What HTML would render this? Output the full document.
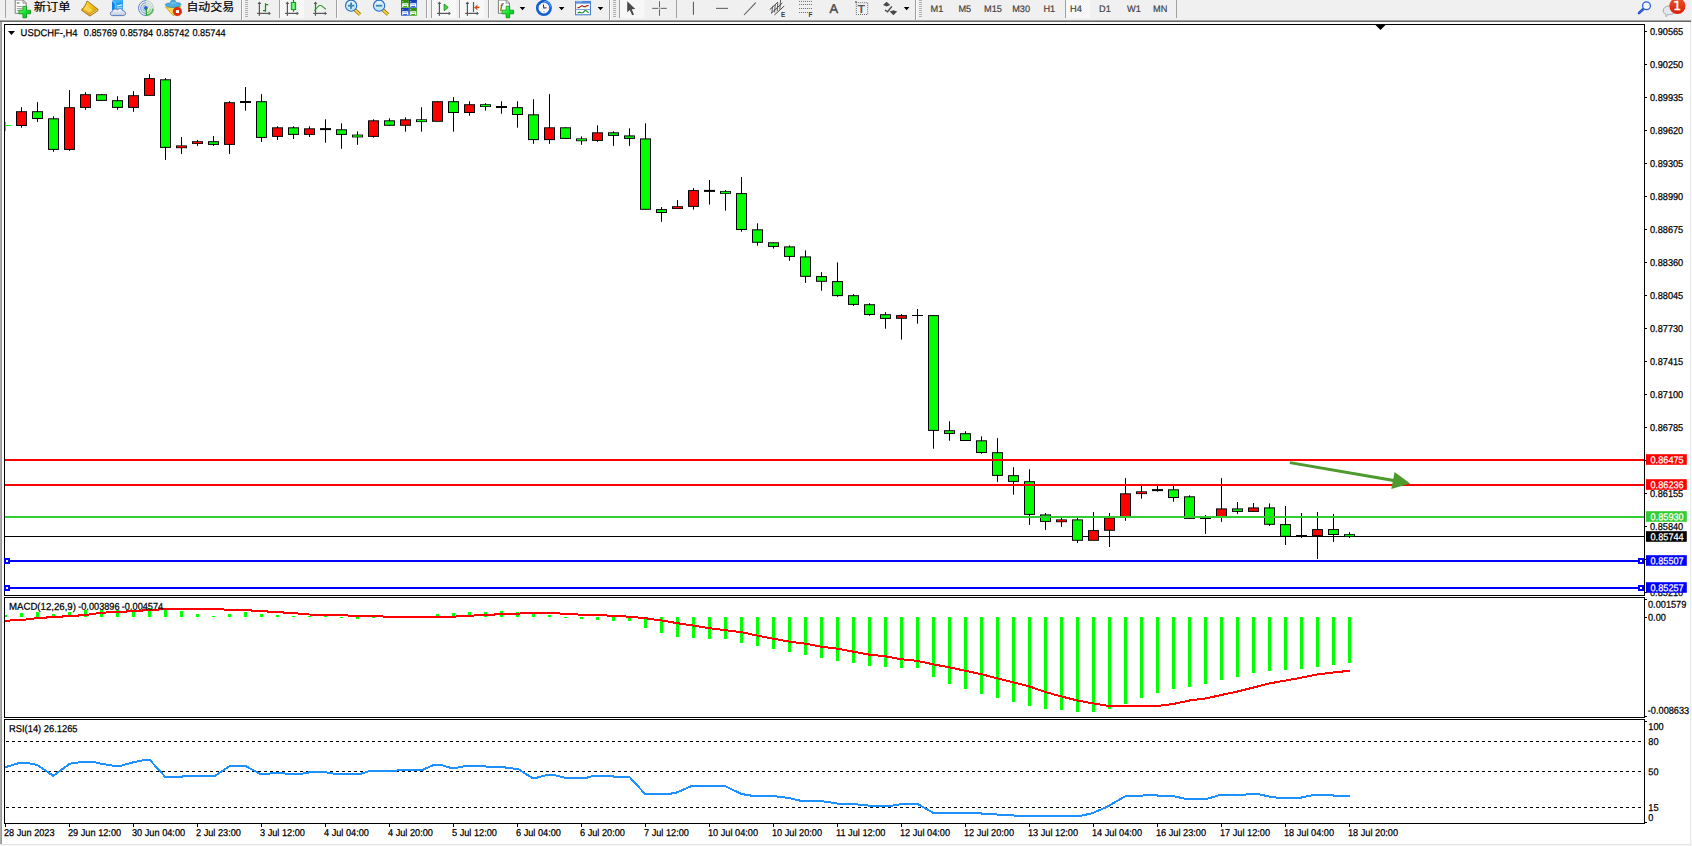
<!DOCTYPE html>
<html lang="zh">
<head>
<meta charset="utf-8">
<title>USDCHF-,H4</title>
<style>
html,body{margin:0;padding:0;background:#fff;}
body{width:1692px;height:846px;overflow:hidden;position:relative;}
svg{position:absolute;left:0;top:0;display:block;}
text{font-family:"Liberation Sans","Noto Sans CJK SC",sans-serif;white-space:pre;}
</style>
</head>
<body>
<svg width="1692" height="846" viewBox="0 0 1692 846">
<g id="frame">
<rect x="0" y="0" width="1692" height="846" fill="#fff"/>
<rect x="0" y="0" width="1692" height="20" fill="#f0f0f0"/>
<rect x="0" y="20" width="1691" height="1" fill="#a2a2a2"/>
<rect x="0" y="21" width="1691" height="1" fill="#6a6a6a"/>
<rect x="0" y="22" width="1" height="822" fill="#acacac"/>
<rect x="1" y="22" width="0.8" height="822" fill="#808080"/>
<rect x="1690.2" y="22" width="1" height="824" fill="#e6e6e6"/>
<rect x="1691.2" y="0" width="0.8" height="846" fill="#f6f6f6"/>
<rect x="0" y="844" width="1691" height="1" fill="#e4e4e4"/>
<rect x="0" y="845" width="1692" height="1" fill="#f8f8f8"/>
</g>
<g id="panels" fill="#000">
<rect x="4" y="24" width="1641" height="1" fill="#000"/>
<rect x="4" y="595" width="1641" height="1" fill="#000"/>
<rect x="4" y="24" width="1" height="572" fill="#000"/>
<rect x="1644" y="24" width="1" height="572" fill="#000"/>
<rect x="4" y="597" width="1641" height="1" fill="#000"/>
<rect x="4" y="717" width="1641" height="1" fill="#000"/>
<rect x="4" y="597" width="1" height="121" fill="#000"/>
<rect x="1644" y="597" width="1" height="121" fill="#000"/>
<rect x="4" y="719" width="1641" height="1" fill="#000"/>
<rect x="4" y="823" width="1641" height="1" fill="#000"/>
<rect x="4" y="719" width="1" height="105" fill="#000"/>
<rect x="1644" y="719" width="1" height="105" fill="#000"/>
</g>
<rect x="5" y="536" width="1639" height="1" fill="#000"/>
<g id="candles">
<rect x="21" y="107.2" width="1" height="20.5" fill="#000"/>
<rect x="16" y="111.2" width="11" height="14.8" fill="#000"/>
<rect x="17" y="112.2" width="9" height="12.8" fill="#ff0000"/>
<rect x="37" y="102.2" width="1" height="19.7" fill="#000"/>
<rect x="32" y="111.2" width="11" height="7.8" fill="#000"/>
<rect x="33" y="112.2" width="9" height="5.8" fill="#00ff00"/>
<rect x="53" y="116.3" width="1" height="35.5" fill="#000"/>
<rect x="48" y="118.3" width="11" height="31.6" fill="#000"/>
<rect x="49" y="119.3" width="9" height="29.6" fill="#00ff00"/>
<rect x="69" y="90.1" width="1" height="60.7" fill="#000"/>
<rect x="64" y="107.2" width="11" height="42.7" fill="#000"/>
<rect x="65" y="108.2" width="9" height="40.7" fill="#ff0000"/>
<rect x="85" y="92.2" width="1" height="17.6" fill="#000"/>
<rect x="80" y="94.2" width="11" height="13.7" fill="#000"/>
<rect x="81" y="95.2" width="9" height="11.7" fill="#ff0000"/>
<rect x="101" y="94.2" width="1" height="6.4" fill="#000"/>
<rect x="96" y="94.2" width="11" height="6.7" fill="#000"/>
<rect x="97" y="95.2" width="9" height="4.7" fill="#00ff00"/>
<rect x="117" y="96.2" width="1" height="13.6" fill="#000"/>
<rect x="112" y="100.2" width="11" height="7.7" fill="#000"/>
<rect x="113" y="101.2" width="9" height="5.7" fill="#00ff00"/>
<rect x="133" y="91.1" width="1" height="20.7" fill="#000"/>
<rect x="128" y="95.2" width="11" height="12.7" fill="#000"/>
<rect x="129" y="96.2" width="9" height="10.7" fill="#ff0000"/>
<rect x="149" y="74.1" width="1" height="21.5" fill="#000"/>
<rect x="144" y="78.1" width="11" height="17.8" fill="#000"/>
<rect x="145" y="79.1" width="9" height="15.8" fill="#ff0000"/>
<rect x="165" y="78.1" width="1" height="81.8" fill="#000"/>
<rect x="160" y="79.3" width="11" height="68.6" fill="#000"/>
<rect x="161" y="80.3" width="9" height="66.6" fill="#00ff00"/>
<rect x="181" y="137" width="1" height="16.9" fill="#000"/>
<rect x="176" y="145.4" width="11" height="2.8" fill="#000"/>
<rect x="177" y="146.1" width="9" height="1.4" fill="#ff0000"/>
<rect x="197" y="140" width="1" height="5.8" fill="#000"/>
<rect x="192" y="141.2" width="11" height="2.8" fill="#000"/>
<rect x="193" y="141.9" width="9" height="1.4" fill="#ff0000"/>
<rect x="213" y="136" width="1" height="9.8" fill="#000"/>
<rect x="208" y="141.2" width="11" height="3.7" fill="#000"/>
<rect x="209" y="142.2" width="9" height="1.7" fill="#00ff00"/>
<rect x="229" y="101.2" width="1" height="52.7" fill="#000"/>
<rect x="224" y="102.2" width="11" height="42.7" fill="#000"/>
<rect x="225" y="103.2" width="9" height="40.7" fill="#ff0000"/>
<rect x="245" y="87.1" width="1" height="23.7" fill="#000"/>
<rect x="240" y="101" width="11" height="2" fill="#000"/>
<rect x="261" y="94.2" width="1" height="47.8" fill="#000"/>
<rect x="256" y="101.2" width="11" height="36.7" fill="#000"/>
<rect x="257" y="102.2" width="9" height="34.7" fill="#00ff00"/>
<rect x="277" y="126.3" width="1" height="13.7" fill="#000"/>
<rect x="272" y="127.3" width="11" height="9.6" fill="#000"/>
<rect x="273" y="128.3" width="9" height="7.6" fill="#ff0000"/>
<rect x="293" y="126.3" width="1" height="12.7" fill="#000"/>
<rect x="288" y="127.3" width="11" height="7.6" fill="#000"/>
<rect x="289" y="128.3" width="9" height="5.6" fill="#00ff00"/>
<rect x="309" y="126.3" width="1" height="10.7" fill="#000"/>
<rect x="304" y="128.3" width="11" height="6.6" fill="#000"/>
<rect x="305" y="129.3" width="9" height="4.6" fill="#ff0000"/>
<rect x="325" y="119.3" width="1" height="23.5" fill="#000"/>
<rect x="320" y="128.1" width="11" height="2" fill="#000"/>
<rect x="341" y="123.3" width="1" height="25.5" fill="#000"/>
<rect x="336" y="129.3" width="11" height="5.6" fill="#000"/>
<rect x="337" y="130.3" width="9" height="3.6" fill="#00ff00"/>
<rect x="357" y="131.3" width="1" height="13.5" fill="#000"/>
<rect x="352" y="134.6" width="11" height="2.8" fill="#000"/>
<rect x="353" y="135.3" width="9" height="1.4" fill="#00ff00"/>
<rect x="373" y="119.3" width="1" height="18.3" fill="#000"/>
<rect x="368" y="120.3" width="11" height="16.6" fill="#000"/>
<rect x="369" y="121.3" width="9" height="14.6" fill="#ff0000"/>
<rect x="389" y="118.3" width="1" height="7.2" fill="#000"/>
<rect x="384" y="120.3" width="11" height="5.5" fill="#000"/>
<rect x="385" y="121.3" width="9" height="3.5" fill="#00ff00"/>
<rect x="405" y="117.3" width="1" height="14.4" fill="#000"/>
<rect x="400" y="119.3" width="11" height="6.5" fill="#000"/>
<rect x="401" y="120.3" width="9" height="4.5" fill="#ff0000"/>
<rect x="421" y="107.2" width="1" height="24.5" fill="#000"/>
<rect x="416" y="119.3" width="11" height="2.8" fill="#000"/>
<rect x="417" y="120" width="9" height="1.4" fill="#00ff00"/>
<rect x="437" y="101.2" width="1" height="20.3" fill="#000"/>
<rect x="432" y="101.2" width="11" height="20.6" fill="#000"/>
<rect x="433" y="102.2" width="9" height="18.6" fill="#ff0000"/>
<rect x="453" y="97.2" width="1" height="34.5" fill="#000"/>
<rect x="448" y="101.2" width="11" height="11.8" fill="#000"/>
<rect x="449" y="102.2" width="9" height="9.8" fill="#00ff00"/>
<rect x="469" y="101.2" width="1" height="14.5" fill="#000"/>
<rect x="464" y="104.2" width="11" height="8.8" fill="#000"/>
<rect x="465" y="105.2" width="9" height="6.8" fill="#ff0000"/>
<rect x="485" y="103.2" width="1" height="7.4" fill="#000"/>
<rect x="480" y="104.2" width="11" height="2.8" fill="#000"/>
<rect x="481" y="104.9" width="9" height="1.4" fill="#00ff00"/>
<rect x="501" y="101.2" width="1" height="12.5" fill="#000"/>
<rect x="496" y="106" width="11" height="2" fill="#000"/>
<rect x="517" y="101.2" width="1" height="26.5" fill="#000"/>
<rect x="512" y="107.2" width="11" height="7.8" fill="#000"/>
<rect x="513" y="108.2" width="9" height="5.8" fill="#00ff00"/>
<rect x="533" y="99.2" width="1" height="44.6" fill="#000"/>
<rect x="528" y="114.3" width="11" height="25.8" fill="#000"/>
<rect x="529" y="115.3" width="9" height="23.8" fill="#00ff00"/>
<rect x="549" y="94.2" width="1" height="49.6" fill="#000"/>
<rect x="544" y="127.3" width="11" height="12.8" fill="#000"/>
<rect x="545" y="128.3" width="9" height="10.8" fill="#ff0000"/>
<rect x="565" y="127.3" width="1" height="11.3" fill="#000"/>
<rect x="560" y="127.3" width="11" height="11.6" fill="#000"/>
<rect x="561" y="128.3" width="9" height="9.6" fill="#00ff00"/>
<rect x="581" y="136.4" width="1" height="8.4" fill="#000"/>
<rect x="576" y="138.4" width="11" height="2.8" fill="#000"/>
<rect x="577" y="139.1" width="9" height="1.4" fill="#00ff00"/>
<rect x="597" y="125.3" width="1" height="16.5" fill="#000"/>
<rect x="592" y="132.3" width="11" height="8.6" fill="#000"/>
<rect x="593" y="133.3" width="9" height="6.6" fill="#ff0000"/>
<rect x="613" y="131.3" width="1" height="14.5" fill="#000"/>
<rect x="608" y="132.3" width="11" height="3.6" fill="#000"/>
<rect x="609" y="133.3" width="9" height="1.6" fill="#00ff00"/>
<rect x="629" y="128.3" width="1" height="17.5" fill="#000"/>
<rect x="624" y="135.4" width="11" height="3.5" fill="#000"/>
<rect x="625" y="136.4" width="9" height="1.5" fill="#00ff00"/>
<rect x="645" y="123.3" width="1" height="86.2" fill="#000"/>
<rect x="640" y="138.4" width="11" height="71.4" fill="#000"/>
<rect x="641" y="139.4" width="9" height="69.4" fill="#00ff00"/>
<rect x="661" y="207.1" width="1" height="14.7" fill="#000"/>
<rect x="656" y="209.1" width="11" height="3.9" fill="#000"/>
<rect x="657" y="210.1" width="9" height="1.9" fill="#00ff00"/>
<rect x="677" y="200.1" width="1" height="8.5" fill="#000"/>
<rect x="672" y="206.2" width="11" height="2.8" fill="#000"/>
<rect x="673" y="206.9" width="9" height="1.4" fill="#ff0000"/>
<rect x="693" y="188.1" width="1" height="21.5" fill="#000"/>
<rect x="688" y="190.1" width="11" height="16.8" fill="#000"/>
<rect x="689" y="191.1" width="9" height="14.8" fill="#ff0000"/>
<rect x="709" y="180" width="1" height="24.6" fill="#000"/>
<rect x="704" y="189.9" width="11" height="2" fill="#000"/>
<rect x="725" y="190.1" width="1" height="20.5" fill="#000"/>
<rect x="720" y="191.1" width="11" height="2.8" fill="#000"/>
<rect x="721" y="191.8" width="9" height="1.4" fill="#00ff00"/>
<rect x="741" y="177" width="1" height="54.7" fill="#000"/>
<rect x="736" y="193.1" width="11" height="36.9" fill="#000"/>
<rect x="737" y="194.1" width="9" height="34.9" fill="#00ff00"/>
<rect x="757" y="223.3" width="1" height="22.3" fill="#000"/>
<rect x="752" y="229.3" width="11" height="13.5" fill="#000"/>
<rect x="753" y="230.3" width="9" height="11.5" fill="#00ff00"/>
<rect x="773" y="242.3" width="1" height="6.3" fill="#000"/>
<rect x="768" y="242.3" width="11" height="4.6" fill="#000"/>
<rect x="769" y="243.3" width="9" height="2.6" fill="#00ff00"/>
<rect x="789" y="245.4" width="1" height="15.4" fill="#000"/>
<rect x="784" y="246.4" width="11" height="10.5" fill="#000"/>
<rect x="785" y="247.4" width="9" height="8.5" fill="#00ff00"/>
<rect x="805" y="250.4" width="1" height="32.5" fill="#000"/>
<rect x="800" y="256.4" width="11" height="20.4" fill="#000"/>
<rect x="801" y="257.4" width="9" height="18.4" fill="#00ff00"/>
<rect x="821" y="272.1" width="1" height="18.7" fill="#000"/>
<rect x="816" y="276.1" width="11" height="5.7" fill="#000"/>
<rect x="817" y="277.1" width="9" height="3.7" fill="#00ff00"/>
<rect x="837" y="262.4" width="1" height="34.4" fill="#000"/>
<rect x="832" y="281.1" width="11" height="15" fill="#000"/>
<rect x="833" y="282.1" width="9" height="13" fill="#00ff00"/>
<rect x="853" y="294.2" width="1" height="11.7" fill="#000"/>
<rect x="848" y="295.2" width="11" height="9.7" fill="#000"/>
<rect x="849" y="296.2" width="9" height="7.7" fill="#00ff00"/>
<rect x="869" y="303.2" width="1" height="12.5" fill="#000"/>
<rect x="864" y="304.2" width="11" height="10.8" fill="#000"/>
<rect x="865" y="305.2" width="9" height="8.8" fill="#00ff00"/>
<rect x="885" y="312.2" width="1" height="16.5" fill="#000"/>
<rect x="880" y="314.2" width="11" height="4.7" fill="#000"/>
<rect x="881" y="315.2" width="9" height="2.7" fill="#00ff00"/>
<rect x="901" y="314.1" width="1" height="25.5" fill="#000"/>
<rect x="896" y="315.1" width="11" height="3.7" fill="#000"/>
<rect x="897" y="316.1" width="9" height="1.7" fill="#ff0000"/>
<rect x="917" y="309" width="1" height="14.7" fill="#000"/>
<rect x="912" y="315" width="11" height="1" fill="#000"/>
<rect x="933" y="315.1" width="1" height="133.6" fill="#000"/>
<rect x="928" y="315.1" width="11" height="115.8" fill="#000"/>
<rect x="929" y="316.1" width="9" height="113.8" fill="#00ff00"/>
<rect x="949" y="421.2" width="1" height="19.5" fill="#000"/>
<rect x="944" y="430.2" width="11" height="3.7" fill="#000"/>
<rect x="945" y="431.2" width="9" height="1.7" fill="#00ff00"/>
<rect x="965" y="431.2" width="1" height="9.5" fill="#000"/>
<rect x="960" y="433.2" width="11" height="7.8" fill="#000"/>
<rect x="961" y="434.2" width="9" height="5.8" fill="#00ff00"/>
<rect x="981" y="436.3" width="1" height="17.4" fill="#000"/>
<rect x="976" y="440.3" width="11" height="12.7" fill="#000"/>
<rect x="977" y="441.3" width="9" height="10.7" fill="#00ff00"/>
<rect x="997" y="438.2" width="1" height="43.6" fill="#000"/>
<rect x="992" y="452.2" width="11" height="23.7" fill="#000"/>
<rect x="993" y="453.2" width="9" height="21.7" fill="#00ff00"/>
<rect x="1013" y="467.2" width="1" height="27.5" fill="#000"/>
<rect x="1008" y="475.2" width="11" height="6.7" fill="#000"/>
<rect x="1009" y="476.2" width="9" height="4.7" fill="#00ff00"/>
<rect x="1029" y="469.2" width="1" height="55.7" fill="#000"/>
<rect x="1024" y="481.2" width="11" height="33.7" fill="#000"/>
<rect x="1025" y="482.2" width="9" height="31.7" fill="#00ff00"/>
<rect x="1045" y="513" width="1" height="16.9" fill="#000"/>
<rect x="1040" y="514.4" width="11" height="7.5" fill="#000"/>
<rect x="1041" y="515.4" width="9" height="5.5" fill="#00ff00"/>
<rect x="1061" y="517.4" width="1" height="9.5" fill="#000"/>
<rect x="1056" y="519.4" width="11" height="2.8" fill="#000"/>
<rect x="1057" y="520.1" width="9" height="1.4" fill="#ff0000"/>
<rect x="1077" y="517.8" width="1" height="25.1" fill="#000"/>
<rect x="1072" y="519.4" width="11" height="21.4" fill="#000"/>
<rect x="1073" y="520.4" width="9" height="19.4" fill="#00ff00"/>
<rect x="1093" y="512" width="1" height="28.5" fill="#000"/>
<rect x="1088" y="530.1" width="11" height="10.7" fill="#000"/>
<rect x="1089" y="531.1" width="9" height="8.7" fill="#ff0000"/>
<rect x="1109" y="513" width="1" height="34" fill="#000"/>
<rect x="1104" y="517.4" width="11" height="13.4" fill="#000"/>
<rect x="1105" y="518.4" width="9" height="11.4" fill="#ff0000"/>
<rect x="1125" y="478.2" width="1" height="42.6" fill="#000"/>
<rect x="1120" y="493.3" width="11" height="23.8" fill="#000"/>
<rect x="1121" y="494.3" width="9" height="21.8" fill="#ff0000"/>
<rect x="1141" y="485.9" width="1" height="12.8" fill="#000"/>
<rect x="1136" y="491.3" width="11" height="2.8" fill="#000"/>
<rect x="1137" y="492" width="9" height="1.4" fill="#ff0000"/>
<rect x="1157" y="485.9" width="1" height="5.8" fill="#000"/>
<rect x="1152" y="489.1" width="11" height="2" fill="#000"/>
<rect x="1173" y="485.9" width="1" height="15.8" fill="#000"/>
<rect x="1168" y="489.3" width="11" height="8.7" fill="#000"/>
<rect x="1169" y="490.3" width="9" height="6.7" fill="#00ff00"/>
<rect x="1189" y="495.3" width="1" height="23.3" fill="#000"/>
<rect x="1184" y="496.3" width="11" height="22.6" fill="#000"/>
<rect x="1185" y="497.3" width="9" height="20.6" fill="#00ff00"/>
<rect x="1205" y="515" width="1" height="18.9" fill="#000"/>
<rect x="1200" y="518" width="11" height="1" fill="#000"/>
<rect x="1221" y="478.2" width="1" height="43.6" fill="#000"/>
<rect x="1216" y="508.4" width="11" height="8.7" fill="#000"/>
<rect x="1217" y="509.4" width="9" height="6.7" fill="#ff0000"/>
<rect x="1237" y="502" width="1" height="11.8" fill="#000"/>
<rect x="1232" y="508.4" width="11" height="3.5" fill="#000"/>
<rect x="1233" y="509.4" width="9" height="1.5" fill="#00ff00"/>
<rect x="1253" y="503" width="1" height="8.6" fill="#000"/>
<rect x="1248" y="507.4" width="11" height="4.5" fill="#000"/>
<rect x="1249" y="508.4" width="9" height="2.5" fill="#ff0000"/>
<rect x="1269" y="503.4" width="1" height="22.5" fill="#000"/>
<rect x="1264" y="507.4" width="11" height="17.4" fill="#000"/>
<rect x="1265" y="508.4" width="9" height="15.4" fill="#00ff00"/>
<rect x="1285" y="506" width="1" height="39" fill="#000"/>
<rect x="1280" y="524.1" width="11" height="12.7" fill="#000"/>
<rect x="1281" y="525.1" width="9" height="10.7" fill="#00ff00"/>
<rect x="1301" y="513" width="1" height="24.9" fill="#000"/>
<rect x="1296" y="535" width="11" height="1" fill="#000"/>
<rect x="1317" y="512" width="1" height="47" fill="#000"/>
<rect x="1312" y="529.1" width="11" height="7.1" fill="#000"/>
<rect x="1313" y="530.1" width="9" height="5.1" fill="#ff0000"/>
<rect x="1333" y="514" width="1" height="27.9" fill="#000"/>
<rect x="1328" y="529.1" width="11" height="5.9" fill="#000"/>
<rect x="1329" y="530.1" width="9" height="3.9" fill="#00ff00"/>
<rect x="1349" y="532.1" width="1" height="5.8" fill="#000"/>
<rect x="1344" y="534.1" width="11" height="2.8" fill="#000"/>
<rect x="1345" y="534.8" width="9" height="1.4" fill="#00ff00"/>
</g>
<rect x="5" y="122" width="1" height="9" fill="#00ff00"/>
<rect x="6" y="125" width="5" height="1" fill="#00ff00"/>
<g id="hlines">
<rect x="5" y="459" width="1639" height="2" fill="#ff0000"/>
<rect x="5" y="484" width="1639" height="2" fill="#ff0000"/>
<rect x="5" y="516" width="1639" height="2" fill="#32cd32"/>
<rect x="5" y="560" width="1639" height="2" fill="#0000ff"/>
<rect x="5" y="587" width="1639" height="2" fill="#0000ff"/>
<rect x="4" y="558" width="6" height="6" fill="#0000ff"/>
<rect x="6" y="560" width="2" height="2" fill="#fff"/>
<rect x="1638" y="558" width="6" height="6" fill="#0000ff"/>
<rect x="1640" y="560" width="2" height="2" fill="#fff"/>
<rect x="4" y="585" width="6" height="6" fill="#0000ff"/>
<rect x="6" y="587" width="2" height="2" fill="#fff"/>
<rect x="1638" y="585" width="6" height="6" fill="#0000ff"/>
<rect x="1640" y="587" width="2" height="2" fill="#fff"/>
</g>
<g id="arrow" fill="#4f9a2d" stroke="none">
<path d="M1289.6 464.1 L1290.2 461.3 L1394.2 478.9 L1393.4 481.9 Z"/>
<path d="M1394.6 471.9 L1410.2 483.5 L1391.3 488.9 Z"/>
</g>
<g id="paxis">
<rect x="1645" y="31" width="2" height="1" fill="#000"/>
<text transform="matrix(0.92 0.002 0 1 1650 34.9)" font-size="10" fill="#000" stroke="#000" stroke-width="0.25">0.90565</text>
<rect x="1645" y="64" width="2" height="1" fill="#000"/>
<text transform="matrix(0.92 0.002 0 1 1650 67.9)" font-size="10" fill="#000" stroke="#000" stroke-width="0.25">0.90250</text>
<rect x="1645" y="97" width="2" height="1" fill="#000"/>
<text transform="matrix(0.92 0.002 0 1 1650 100.9)" font-size="10" fill="#000" stroke="#000" stroke-width="0.25">0.89935</text>
<rect x="1645" y="130" width="2" height="1" fill="#000"/>
<text transform="matrix(0.92 0.002 0 1 1650 133.9)" font-size="10" fill="#000" stroke="#000" stroke-width="0.25">0.89620</text>
<rect x="1645" y="163" width="2" height="1" fill="#000"/>
<text transform="matrix(0.92 0.002 0 1 1650 166.9)" font-size="10" fill="#000" stroke="#000" stroke-width="0.25">0.89305</text>
<rect x="1645" y="196" width="2" height="1" fill="#000"/>
<text transform="matrix(0.92 0.002 0 1 1650 199.9)" font-size="10" fill="#000" stroke="#000" stroke-width="0.25">0.88990</text>
<rect x="1645" y="229" width="2" height="1" fill="#000"/>
<text transform="matrix(0.92 0.002 0 1 1650 232.9)" font-size="10" fill="#000" stroke="#000" stroke-width="0.25">0.88675</text>
<rect x="1645" y="262" width="2" height="1" fill="#000"/>
<text transform="matrix(0.92 0.002 0 1 1650 265.9)" font-size="10" fill="#000" stroke="#000" stroke-width="0.25">0.88360</text>
<rect x="1645" y="295" width="2" height="1" fill="#000"/>
<text transform="matrix(0.92 0.002 0 1 1650 298.9)" font-size="10" fill="#000" stroke="#000" stroke-width="0.25">0.88045</text>
<rect x="1645" y="328" width="2" height="1" fill="#000"/>
<text transform="matrix(0.92 0.002 0 1 1650 331.9)" font-size="10" fill="#000" stroke="#000" stroke-width="0.25">0.87730</text>
<rect x="1645" y="361" width="2" height="1" fill="#000"/>
<text transform="matrix(0.92 0.002 0 1 1650 364.9)" font-size="10" fill="#000" stroke="#000" stroke-width="0.25">0.87415</text>
<rect x="1645" y="394" width="2" height="1" fill="#000"/>
<text transform="matrix(0.92 0.002 0 1 1650 397.9)" font-size="10" fill="#000" stroke="#000" stroke-width="0.25">0.87100</text>
<rect x="1645" y="427" width="2" height="1" fill="#000"/>
<text transform="matrix(0.92 0.002 0 1 1650 430.9)" font-size="10" fill="#000" stroke="#000" stroke-width="0.25">0.86785</text>
<rect x="1645" y="460" width="2" height="1" fill="#000"/>
<text transform="matrix(0.92 0.002 0 1 1650 463.9)" font-size="10" fill="#000" stroke="#000" stroke-width="0.25">0.86470</text>
<rect x="1645" y="493" width="2" height="1" fill="#000"/>
<text transform="matrix(0.92 0.002 0 1 1650 496.9)" font-size="10" fill="#000" stroke="#000" stroke-width="0.25">0.86155</text>
<rect x="1645" y="526" width="2" height="1" fill="#000"/>
<text transform="matrix(0.92 0.002 0 1 1650 529.9)" font-size="10" fill="#000" stroke="#000" stroke-width="0.25">0.85840</text>
<rect x="1645" y="559" width="2" height="1" fill="#000"/>
<text transform="matrix(0.92 0.002 0 1 1650 562.9)" font-size="10" fill="#000" stroke="#000" stroke-width="0.25">0.85525</text>
<rect x="1645" y="592" width="2" height="1" fill="#000"/>
<text transform="matrix(0.92 0.002 0 1 1650 595.9)" font-size="10" fill="#000" stroke="#000" stroke-width="0.25">0.85210</text>
<rect x="1646" y="454.2" width="40.8" height="10.6" fill="#ff0000"/>
<text transform="matrix(0.92 0.002 0 1 1650.5 463.2)" font-size="10" fill="#fff" stroke="#fff" stroke-width="0.25">0.86475</text>
<rect x="1646" y="479.2" width="40.8" height="10.6" fill="#ff0000"/>
<text transform="matrix(0.92 0.002 0 1 1650.5 488.2)" font-size="10" fill="#fff" stroke="#fff" stroke-width="0.25">0.86236</text>
<rect x="1646" y="511.2" width="40.8" height="10.6" fill="#32cd32"/>
<text transform="matrix(0.92 0.002 0 1 1650.5 520.2)" font-size="10" fill="#fff" stroke="#fff" stroke-width="0.25">0.85930</text>
<rect x="1646" y="531.2" width="40.8" height="10.6" fill="#000"/>
<text transform="matrix(0.92 0.002 0 1 1650.5 540.2)" font-size="10" fill="#fff" stroke="#fff" stroke-width="0.25">0.85744</text>
<rect x="1646" y="555.2" width="40.8" height="10.6" fill="#0000ff"/>
<text transform="matrix(0.92 0.002 0 1 1650.5 564.2)" font-size="10" fill="#fff" stroke="#fff" stroke-width="0.25">0.85507</text>
<rect x="1646" y="582.2" width="40.8" height="10.6" fill="#0000ff"/>
<text transform="matrix(0.92 0.002 0 1 1650.5 591.2)" font-size="10" fill="#fff" stroke="#fff" stroke-width="0.25">0.85257</text>
</g>
<path d="M8 31 L15 31 L11.5 35 Z" fill="#000"/>
<text transform="matrix(0.94 0.002 0 1 20.6 36.1)" font-size="10" fill="#000" stroke="#000" stroke-width="0.25">USDCHF-,H4</text>
<text transform="matrix(0.92 0.002 0 1 83.8 36.1)" font-size="10" fill="#000" stroke="#000" stroke-width="0.25">0.85769</text>
<text transform="matrix(0.92 0.002 0 1 120 36.1)" font-size="10" fill="#000" stroke="#000" stroke-width="0.25">0.85784</text>
<text transform="matrix(0.92 0.002 0 1 156.2 36.1)" font-size="10" fill="#000" stroke="#000" stroke-width="0.25">0.85742</text>
<text transform="matrix(0.92 0.002 0 1 192.4 36.1)" font-size="10" fill="#000" stroke="#000" stroke-width="0.25">0.85744</text>
<path d="M1375.5 25 L1385.5 25 L1380.5 30 Z" fill="#000"/>
<g id="macd">
<rect x="5" y="615" width="2" height="2" fill="#00ff00"/>
<rect x="20" y="613" width="3" height="4" fill="#00ff00"/>
<rect x="36" y="612" width="3" height="5" fill="#00ff00"/>
<rect x="52" y="614" width="3" height="3" fill="#00ff00"/>
<rect x="68" y="612" width="3" height="5" fill="#00ff00"/>
<rect x="84" y="610" width="3" height="7" fill="#00ff00"/>
<rect x="100" y="610" width="3" height="7" fill="#00ff00"/>
<rect x="116" y="610" width="3" height="7" fill="#00ff00"/>
<rect x="132" y="610" width="3" height="7" fill="#00ff00"/>
<rect x="148" y="608" width="3" height="9" fill="#00ff00"/>
<rect x="164" y="608" width="3" height="9" fill="#00ff00"/>
<rect x="180" y="611" width="3" height="6" fill="#00ff00"/>
<rect x="196" y="614" width="3" height="3" fill="#00ff00"/>
<rect x="212" y="616" width="3" height="1" fill="#00ff00"/>
<rect x="228" y="614" width="3" height="3" fill="#00ff00"/>
<rect x="244" y="612" width="3" height="5" fill="#00ff00"/>
<rect x="260" y="614" width="3" height="3" fill="#00ff00"/>
<rect x="276" y="615" width="3" height="2" fill="#00ff00"/>
<rect x="292" y="616" width="3" height="1" fill="#00ff00"/>
<rect x="308" y="616" width="3" height="1" fill="#00ff00"/>
<rect x="324" y="616" width="3" height="1" fill="#00ff00"/>
<rect x="340" y="617" width="3" height="1" fill="#00ff00"/>
<rect x="356" y="617" width="3" height="2" fill="#00ff00"/>
<rect x="372" y="617" width="3" height="1" fill="#00ff00"/>
<rect x="388" y="617" width="3" height="1" fill="#00ff00"/>
<rect x="404" y="617" width="3" height="1" fill="#00ff00"/>
<rect x="420" y="617" width="3" height="1" fill="#00ff00"/>
<rect x="436" y="614" width="3" height="3" fill="#00ff00"/>
<rect x="452" y="613" width="3" height="4" fill="#00ff00"/>
<rect x="468" y="612" width="3" height="5" fill="#00ff00"/>
<rect x="484" y="612" width="3" height="5" fill="#00ff00"/>
<rect x="500" y="611" width="3" height="6" fill="#00ff00"/>
<rect x="516" y="612" width="3" height="5" fill="#00ff00"/>
<rect x="532" y="614" width="3" height="3" fill="#00ff00"/>
<rect x="548" y="615" width="3" height="2" fill="#00ff00"/>
<rect x="564" y="617" width="3" height="1" fill="#00ff00"/>
<rect x="580" y="617" width="3" height="2" fill="#00ff00"/>
<rect x="596" y="617" width="3" height="3" fill="#00ff00"/>
<rect x="612" y="617" width="3" height="4" fill="#00ff00"/>
<rect x="628" y="617" width="3" height="4" fill="#00ff00"/>
<rect x="644" y="617" width="3" height="11" fill="#00ff00"/>
<rect x="660" y="617" width="3" height="16" fill="#00ff00"/>
<rect x="676" y="617" width="3" height="20" fill="#00ff00"/>
<rect x="692" y="617" width="3" height="21" fill="#00ff00"/>
<rect x="708" y="617" width="3" height="22" fill="#00ff00"/>
<rect x="724" y="617" width="3" height="22" fill="#00ff00"/>
<rect x="740" y="617" width="3" height="26" fill="#00ff00"/>
<rect x="756" y="617" width="3" height="29" fill="#00ff00"/>
<rect x="772" y="617" width="3" height="32" fill="#00ff00"/>
<rect x="788" y="617" width="3" height="35" fill="#00ff00"/>
<rect x="804" y="617" width="3" height="38" fill="#00ff00"/>
<rect x="820" y="617" width="3" height="41" fill="#00ff00"/>
<rect x="836" y="617" width="3" height="44" fill="#00ff00"/>
<rect x="852" y="617" width="3" height="46" fill="#00ff00"/>
<rect x="868" y="617" width="3" height="49" fill="#00ff00"/>
<rect x="884" y="617" width="3" height="50" fill="#00ff00"/>
<rect x="900" y="617" width="3" height="51" fill="#00ff00"/>
<rect x="916" y="617" width="3" height="51" fill="#00ff00"/>
<rect x="932" y="617" width="3" height="60" fill="#00ff00"/>
<rect x="948" y="617" width="3" height="67" fill="#00ff00"/>
<rect x="964" y="617" width="3" height="72" fill="#00ff00"/>
<rect x="980" y="617" width="3" height="77" fill="#00ff00"/>
<rect x="996" y="617" width="3" height="81" fill="#00ff00"/>
<rect x="1012" y="617" width="3" height="85" fill="#00ff00"/>
<rect x="1028" y="617" width="3" height="89" fill="#00ff00"/>
<rect x="1044" y="617" width="3" height="92" fill="#00ff00"/>
<rect x="1060" y="617" width="3" height="93" fill="#00ff00"/>
<rect x="1076" y="617" width="3" height="95" fill="#00ff00"/>
<rect x="1092" y="617" width="3" height="95" fill="#00ff00"/>
<rect x="1108" y="617" width="3" height="92" fill="#00ff00"/>
<rect x="1124" y="617" width="3" height="87" fill="#00ff00"/>
<rect x="1140" y="617" width="3" height="81" fill="#00ff00"/>
<rect x="1156" y="617" width="3" height="76" fill="#00ff00"/>
<rect x="1172" y="617" width="3" height="72" fill="#00ff00"/>
<rect x="1188" y="617" width="3" height="70" fill="#00ff00"/>
<rect x="1204" y="617" width="3" height="67" fill="#00ff00"/>
<rect x="1220" y="617" width="3" height="63" fill="#00ff00"/>
<rect x="1236" y="617" width="3" height="60" fill="#00ff00"/>
<rect x="1252" y="617" width="3" height="56" fill="#00ff00"/>
<rect x="1268" y="617" width="3" height="54" fill="#00ff00"/>
<rect x="1284" y="617" width="3" height="53" fill="#00ff00"/>
<rect x="1300" y="617" width="3" height="52" fill="#00ff00"/>
<rect x="1316" y="617" width="3" height="50" fill="#00ff00"/>
<rect x="1332" y="617" width="3" height="48" fill="#00ff00"/>
<rect x="1348" y="617" width="3" height="46" fill="#00ff00"/>
<polyline points="5,620.7 21,620.1 37,618.1 53,617.1 69,616.1 85,615.1 101,612.7 117,612.1 133,611.1 149,610.1 165,609.1 213,609.1 229,609.7 245,610.1 261,611.1 277,612.1 293,613.1 309,614.5 330,615.1 357,615.7 389,616.7 453,616.7 469,615.7 485,615.1 501,614.1 533,613.1 549,613.1 565,613.7 581,614.7 613,615.7 629,616.7 645,618.1 653,619.4 661.5,620.4 677.5,623.2 693.6,625.6 709.5,628.2 725.6,630.2 741.6,632.2 757.5,635.6 773.6,638.8 789.5,641.6 805.5,643.7 821.4,646.7 837.5,648.7 853.6,651.7 869.5,654.7 885.5,656.3 901.6,659.3 917.5,660.9 933.6,664.4 949.5,667.4 965.5,670.8 981.5,674.2 997.5,678.4 1013.6,682.4 1029.5,686.5 1045.6,692.1 1061.6,696.5 1077.5,700.5 1093.6,703.5 1109.5,706 1125.5,706 1157.5,706 1173.6,703.9 1189.5,700.5 1205.5,698.5 1221.6,694.9 1237.5,691.5 1253.6,687.5 1269.4,683.4 1285.5,680.6 1301.6,677.6 1317.6,674.4 1333.5,672.4 1349.6,670.8" fill="none" stroke="#ff0000" stroke-width="2" stroke-linejoin="round" shape-rendering="crispEdges"/>
<text transform="matrix(0.965 0.002 0 1 9 609.8)" font-size="10" fill="#000" stroke="#000" stroke-width="0.25">MACD(12,26,9)</text>
<text transform="matrix(0.92 0.002 0 1 78.2 609.8)" font-size="10" fill="#000" stroke="#000" stroke-width="0.25">-0.003896</text>
<text transform="matrix(0.92 0.002 0 1 121.8 609.8)" font-size="10" fill="#000" stroke="#000" stroke-width="0.25">-0.004574</text>
<rect x="1645" y="599" width="2" height="1" fill="#000"/>
<text transform="matrix(0.92 0.002 0 1 1648 607.8)" font-size="10" fill="#000" stroke="#000" stroke-width="0.25">0.001579</text>
<rect x="1645" y="617" width="2" height="1" fill="#000"/>
<text transform="matrix(0.92 0.002 0 1 1648 620.8)" font-size="10" fill="#000" stroke="#000" stroke-width="0.25">0.00</text>
<rect x="1645" y="716" width="2" height="1" fill="#000"/>
<text transform="matrix(0.92 0.002 0 1 1647.8 713.8)" font-size="10" fill="#000" stroke="#000" stroke-width="0.25">-0.008633</text>
</g>
<g id="rsi">
<line x1="5" y1="741.5" x2="1644" y2="741.5" stroke="#000" stroke-width="1" stroke-dasharray="3 3" stroke-dashoffset="-1"/>
<line x1="5" y1="771.5" x2="1644" y2="771.5" stroke="#000" stroke-width="1" stroke-dasharray="3 3" stroke-dashoffset="-1"/>
<line x1="5" y1="807.5" x2="1644" y2="807.5" stroke="#000" stroke-width="1" stroke-dasharray="3 3" stroke-dashoffset="-1"/>
<polyline points="5,767.3 20,762.8 26,762.8 37,764.8 53.3,775.9 69.5,763.8 82.4,761.8 92.4,761.8 101.5,763.8 113.5,765.8 120.6,765.8 133.6,762.2 145.7,759.8 149.7,759.8 165.2,776.9 180.9,776.9 184.9,775.9 215,775.9 230,765.8 245.2,765.8 260.2,773.9 269.3,773.9 271.3,772.9 283.4,772.9 286.4,773.9 301.4,773.9 311.5,771.9 325.6,772.3 335,773.9 360.1,773.9 370.2,770.9 396.3,770.7 399.3,769.9 422.4,769.9 434.5,764.6 440.5,764.6 450.6,767.9 456.6,767.9 465.7,765.8 484.7,765.8 486.8,766.8 500.8,766.8 510.9,768.3 517.9,768.9 532,777.9 536,777.9 547,774.9 553.1,774.9 566.1,777.9 586.2,777.9 593.3,775.9 612.4,775.9 614.4,776.9 629.4,776.9 645.1,794 669.1,794 677.1,792.4 692.2,785.7 724.4,785.7 741.4,794 753.5,796 772.6,796 788.7,798 800.7,800.8 820.8,801 837.9,803.6 853,804 871,805.8 891.2,805.8 903.2,803.8 917.3,803.8 933.8,813.1 979.6,813.1 984.1,814.1 996.1,814.1 999.1,815.1 1012.2,815.1 1015.2,815.9 1080.5,815.9 1092.6,813.1 1106.7,807 1125.7,796 1140.8,796 1144.8,795 1155.9,795 1158.9,796 1173,796 1185,798.8 1207.1,798.8 1219.2,795.2 1243.3,795.2 1248.3,794 1257.4,794 1271.4,797 1278.5,797.8 1300.1,797.8 1313.2,795 1332.3,795 1334.3,796 1350,796" fill="none" stroke="#1e90ff" stroke-width="2" stroke-linejoin="round" shape-rendering="crispEdges"/>
<text transform="matrix(0.935 0.002 0 1 9 732)" font-size="10" fill="#000" stroke="#000" stroke-width="0.25">RSI(14) 26.1265</text>
<rect x="1645" y="721" width="2" height="1" fill="#000"/>
<text transform="matrix(0.92 0.002 0 1 1648.3 730)" font-size="10" fill="#000" stroke="#000" stroke-width="0.25">100</text>
<text transform="matrix(0.92 0.002 0 1 1648.3 745)" font-size="10" fill="#000" stroke="#000" stroke-width="0.25">80</text>
<text transform="matrix(0.92 0.002 0 1 1648.3 775.3)" font-size="10" fill="#000" stroke="#000" stroke-width="0.25">50</text>
<text transform="matrix(0.92 0.002 0 1 1648.3 811)" font-size="10" fill="#000" stroke="#000" stroke-width="0.25">15</text>
<text transform="matrix(0.92 0.002 0 1 1648.3 821)" font-size="10" fill="#000" stroke="#000" stroke-width="0.25">0</text>
<rect x="1645" y="822" width="2" height="1" fill="#000"/>
</g>
<g id="taxis">
<rect x="5" y="824" width="1" height="3" fill="#000"/>
<text transform="matrix(0.92 0.002 0 1 4 836)" font-size="10" fill="#000" stroke="#000" stroke-width="0.25">28 Jun 2023</text>
<rect x="69" y="824" width="1" height="3" fill="#000"/>
<text transform="matrix(0.92 0.002 0 1 68 836)" font-size="10" fill="#000" stroke="#000" stroke-width="0.25">29 Jun 12:00</text>
<rect x="133" y="824" width="1" height="3" fill="#000"/>
<text transform="matrix(0.92 0.002 0 1 132 836)" font-size="10" fill="#000" stroke="#000" stroke-width="0.25">30 Jun 04:00</text>
<rect x="197" y="824" width="1" height="3" fill="#000"/>
<text transform="matrix(0.92 0.002 0 1 196 836)" font-size="10" fill="#000" stroke="#000" stroke-width="0.25">2 Jul 23:00</text>
<rect x="261" y="824" width="1" height="3" fill="#000"/>
<text transform="matrix(0.92 0.002 0 1 260 836)" font-size="10" fill="#000" stroke="#000" stroke-width="0.25">3 Jul 12:00</text>
<rect x="325" y="824" width="1" height="3" fill="#000"/>
<text transform="matrix(0.92 0.002 0 1 324 836)" font-size="10" fill="#000" stroke="#000" stroke-width="0.25">4 Jul 04:00</text>
<rect x="389" y="824" width="1" height="3" fill="#000"/>
<text transform="matrix(0.92 0.002 0 1 388 836)" font-size="10" fill="#000" stroke="#000" stroke-width="0.25">4 Jul 20:00</text>
<rect x="453" y="824" width="1" height="3" fill="#000"/>
<text transform="matrix(0.92 0.002 0 1 452 836)" font-size="10" fill="#000" stroke="#000" stroke-width="0.25">5 Jul 12:00</text>
<rect x="517" y="824" width="1" height="3" fill="#000"/>
<text transform="matrix(0.92 0.002 0 1 516 836)" font-size="10" fill="#000" stroke="#000" stroke-width="0.25">6 Jul 04:00</text>
<rect x="581" y="824" width="1" height="3" fill="#000"/>
<text transform="matrix(0.92 0.002 0 1 580 836)" font-size="10" fill="#000" stroke="#000" stroke-width="0.25">6 Jul 20:00</text>
<rect x="645" y="824" width="1" height="3" fill="#000"/>
<text transform="matrix(0.92 0.002 0 1 644 836)" font-size="10" fill="#000" stroke="#000" stroke-width="0.25">7 Jul 12:00</text>
<rect x="709" y="824" width="1" height="3" fill="#000"/>
<text transform="matrix(0.92 0.002 0 1 708 836)" font-size="10" fill="#000" stroke="#000" stroke-width="0.25">10 Jul 04:00</text>
<rect x="773" y="824" width="1" height="3" fill="#000"/>
<text transform="matrix(0.92 0.002 0 1 772 836)" font-size="10" fill="#000" stroke="#000" stroke-width="0.25">10 Jul 20:00</text>
<rect x="837" y="824" width="1" height="3" fill="#000"/>
<text transform="matrix(0.92 0.002 0 1 836 836)" font-size="10" fill="#000" stroke="#000" stroke-width="0.25">11 Jul 12:00</text>
<rect x="901" y="824" width="1" height="3" fill="#000"/>
<text transform="matrix(0.92 0.002 0 1 900 836)" font-size="10" fill="#000" stroke="#000" stroke-width="0.25">12 Jul 04:00</text>
<rect x="965" y="824" width="1" height="3" fill="#000"/>
<text transform="matrix(0.92 0.002 0 1 964 836)" font-size="10" fill="#000" stroke="#000" stroke-width="0.25">12 Jul 20:00</text>
<rect x="1029" y="824" width="1" height="3" fill="#000"/>
<text transform="matrix(0.92 0.002 0 1 1028 836)" font-size="10" fill="#000" stroke="#000" stroke-width="0.25">13 Jul 12:00</text>
<rect x="1093" y="824" width="1" height="3" fill="#000"/>
<text transform="matrix(0.92 0.002 0 1 1092 836)" font-size="10" fill="#000" stroke="#000" stroke-width="0.25">14 Jul 04:00</text>
<rect x="1157" y="824" width="1" height="3" fill="#000"/>
<text transform="matrix(0.92 0.002 0 1 1156 836)" font-size="10" fill="#000" stroke="#000" stroke-width="0.25">16 Jul 23:00</text>
<rect x="1221" y="824" width="1" height="3" fill="#000"/>
<text transform="matrix(0.92 0.002 0 1 1220 836)" font-size="10" fill="#000" stroke="#000" stroke-width="0.25">17 Jul 12:00</text>
<rect x="1285" y="824" width="1" height="3" fill="#000"/>
<text transform="matrix(0.92 0.002 0 1 1284 836)" font-size="10" fill="#000" stroke="#000" stroke-width="0.25">18 Jul 04:00</text>
<rect x="1349" y="824" width="1" height="3" fill="#000"/>
<text transform="matrix(0.92 0.002 0 1 1348 836)" font-size="10" fill="#000" stroke="#000" stroke-width="0.25">18 Jul 20:00</text>
</g>
<defs>
<linearGradient id="gPlus" x1="0" y1="0" x2="1" y2="1"><stop offset="0" stop-color="#7dff8a"/><stop offset="0.55" stop-color="#10e028"/><stop offset="1" stop-color="#00a814"/></linearGradient>
<linearGradient id="gGold" x1="0" y1="0" x2="1" y2="1"><stop offset="0" stop-color="#ffe04a"/><stop offset="0.6" stop-color="#ecb81a"/><stop offset="1" stop-color="#c98a10"/></linearGradient>
<linearGradient id="gCloud" x1="0" y1="0" x2="0" y2="1"><stop offset="0" stop-color="#ffffff"/><stop offset="1" stop-color="#b9c9e4"/></linearGradient>
<linearGradient id="gLens" x1="0" y1="0" x2="0" y2="1"><stop offset="0" stop-color="#eaf8ff"/><stop offset="1" stop-color="#b4e2f4"/></linearGradient>
<linearGradient id="gRed" x1="0" y1="0" x2="0" y2="1"><stop offset="0" stop-color="#ea5636"/><stop offset="1" stop-color="#d81c00"/></linearGradient>
<linearGradient id="gGreenSq" x1="0" y1="0" x2="0" y2="1"><stop offset="0" stop-color="#2f8a12"/><stop offset="1" stop-color="#4cac24"/></linearGradient>
<linearGradient id="gBlueSq" x1="0" y1="0" x2="0" y2="1"><stop offset="0" stop-color="#1238b0"/><stop offset="1" stop-color="#3a6ee0"/></linearGradient>
<linearGradient id="gCandle" x1="0" y1="0" x2="1" y2="0"><stop offset="0" stop-color="#38e048"/><stop offset="0.5" stop-color="#8cff98"/><stop offset="1" stop-color="#28c838"/></linearGradient>
<radialGradient id="gSig" cx="0.5" cy="0.5" r="0.5"><stop offset="0" stop-color="#ffffff" stop-opacity="0"/><stop offset="1" stop-color="#ffffff" stop-opacity="0"/></radialGradient>
<pattern id="chk" width="2" height="2" patternUnits="userSpaceOnUse"><rect width="2" height="2" fill="#f4f4f4"/><rect width="1" height="1" fill="#fbfbfb"/><rect x="1" y="1" width="1" height="1" fill="#fbfbfb"/></pattern>
</defs>
<g id="toolbar">
<rect x="5" y="0" width="1" height="18" fill="#a4a4a4"/>
<path d="M15.2 0 L23.2 0 L26.2 3 L26.2 13.3 L15.2 13.3 Z" fill="#fff" stroke="#7c7c7c" stroke-width="1"/>
<path d="M23.0 0.2 L23.0 3.2 L26.0 3.2" fill="none" stroke="#8a8a8a" stroke-width="0.9"/>
<rect x="16.8" y="2.2" width="2.7" height="1.5" fill="#8c8c8c"/>
<rect x="16.8" y="6.2" width="5.4" height="0.8" fill="#8e8e8e"/>
<rect x="16.8" y="8.2" width="5.4" height="0.8" fill="#8e8e8e"/>
<rect x="16.8" y="10.2" width="5.4" height="0.8" fill="#8e8e8e"/>
<path d="M22.9 6.3 h3.6 v3.9 h4 v3.6 h-4 v4 h-3.6 v-4 h-4 v-3.6 h4 Z" fill="url(#gPlus)" stroke="#0a9414" stroke-width="0.8"/>
<text transform="matrix(1.02 0 0 0.95 33.8 11.1)" font-size="12" fill="#000" stroke="#000" stroke-width="0.2">新订单</text>
<path d="M87.2 1 L98.1 9.4 L97.6 10.9 L89.8 16.1 L81.6 10.3 L82 9.2 C84.2 7.4 85.8 4.4 87.2 1 Z" fill="#c8900e" stroke="#a4660a" stroke-width="0.9" stroke-linejoin="round"/>
<path d="M87.4 1.8 L97.2 9.3 L89.7 13.9 L82.9 9.5 C84.8 7.6 86.2 4.8 87.4 1.8 Z" fill="url(#gGold)"/>
<path d="M86.2 5.4 L93.4 10.6 L89.8 12.8 L84 9 Z" fill="#ffe868" opacity="0.55"/>
<path d="M90.4 14.6 L97.2 10.1" fill="none" stroke="#f2e4a8" stroke-width="0.8"/>
<path d="M82.4 10.2 L89.8 15.2" fill="none" stroke="#e2b030" stroke-width="0.8"/>
<path d="M112 1 L114.8 0 L122.9 0 L122.9 9.8 L112 9.8 Z" fill="#1e9ef4"/>
<path d="M112 1 L115.3 3.2 L115.3 9.8 L112 9.8 Z" fill="#0a84ea"/>
<path d="M112 1 L114.8 0 L122.9 0 L122.9 1.4 L115.3 3.2 Z" fill="#3ab0f8"/>
<path d="M112.3 1.2 L115.3 3.2 L115.3 9.8" fill="none" stroke="#c8eaff" stroke-width="0.6"/>
<path d="M116.8 5.6 L122 4.2 L122 5.4 L116.8 6.4 Z" fill="#f0f8ff"/>
<rect x="116.6" y="6.8" width="5.6" height="1.8" fill="#8fd0fa"/>
<path d="M112.6 15.6 C109.6 15.6 109.4 11.8 112.4 11.4 C112.6 9 116 8.2 117.4 10 C119 7.6 122.4 8.6 122.4 10.6 C126 10.2 126.8 15.6 123.2 15.6 Z" fill="url(#gCloud)" stroke="#4d6fb0" stroke-width="0.9"/>
<circle cx="146" cy="8.1" r="7.8" fill="#dfe9df" opacity="0.55"/>
<path d="M146 0.5999999999999996 A7.5 7.5 0 0 0 146 15.6" fill="none" stroke="#3a68d8" stroke-width="0.9" opacity="0.85"/>
<path d="M146 0.5999999999999996 A7.5 7.5 0 0 1 153.5 8.1" fill="none" stroke="#8fb49c" stroke-width="0.9" opacity="0.59"/>
<path d="M146 2.8 A5.3 5.3 0 0 0 146 13.399999999999999" fill="none" stroke="#3a68d8" stroke-width="0.9" opacity="0.7"/>
<path d="M146 2.8 A5.3 5.3 0 0 1 151.3 8.1" fill="none" stroke="#8fb49c" stroke-width="0.9" opacity="0.49"/>
<path d="M146 4.8999999999999995 A3.2 3.2 0 0 0 146 11.3" fill="none" stroke="#3a68d8" stroke-width="0.9" opacity="0.6"/>
<path d="M146 4.8999999999999995 A3.2 3.2 0 0 1 149.2 8.1" fill="none" stroke="#8fb49c" stroke-width="0.9" opacity="0.42"/>
<path d="M146.6 15.2 A7 7 0 0 0 153 8.6" fill="none" stroke="#46ac46" stroke-width="1.9" opacity="0.85"/>
<path d="M146.6 12.6 A4.6 4.6 0 0 0 150.6 8.6" fill="none" stroke="#7cc47c" stroke-width="1.4" opacity="0.7"/>
<circle cx="145.9" cy="8" r="1.9" fill="#2a5ad8"/>
<rect x="145.8" y="8.2" width="1.1" height="7.6" fill="#18a018"/>
<path d="M165.4 7 L180.8 6.6 L173.6 16 Z" fill="#f4d648" stroke="#c8a010" stroke-width="0.8" stroke-linejoin="round"/>
<path d="M165.2 4.6 C166.4 2.8 169.4 3.4 170.4 2.8 C170.6 0.8 171.4 0 172.6 0 L174 0 C175 0 175.6 1 175.8 2.6 C177.4 3 180.2 2.4 181 4.2 C180.6 6.4 176.6 7.4 173 7.4 C169.4 7.4 165.6 6.6 165.2 4.6 Z" fill="#4fb0e0" stroke="#2d86b8" stroke-width="0.7"/>
<path d="M170.6 2.6 C172 3.6 174.4 3.6 175.8 2.6" fill="none" stroke="#8fd4f4" stroke-width="0.8"/>
<circle cx="177.4" cy="11.5" r="4.2" fill="#e22c10" stroke="#c41c08" stroke-width="0.6"/>
<rect x="175.9" y="10.1" width="3.1" height="2.9" fill="#fff"/>
<text transform="matrix(1.02 0 0 0.95 186.4 11.1)" font-size="11.7" fill="#000" stroke="#000" stroke-width="0.2">自动交易</text>
<rect x="241" y="0" width="1" height="20" fill="#a0a0a0"/>
<rect x="242" y="0" width="1" height="20" fill="#fcfcfc"/>
<rect x="245" y="0" width="3" height="1" fill="#b0b0b0"/>
<rect x="245" y="2" width="3" height="1" fill="#b0b0b0"/>
<rect x="245" y="4" width="3" height="1" fill="#b0b0b0"/>
<rect x="245" y="6" width="3" height="1" fill="#b0b0b0"/>
<rect x="245" y="8" width="3" height="1" fill="#b0b0b0"/>
<rect x="245" y="10" width="3" height="1" fill="#b0b0b0"/>
<rect x="245" y="12" width="3" height="1" fill="#b0b0b0"/>
<rect x="245" y="14" width="3" height="1" fill="#b0b0b0"/>
<rect x="245" y="16" width="3" height="1" fill="#b0b0b0"/>
<rect x="258.79999999999995" y="2.6" width="1.2" height="13.2" fill="#585858"/>
<path d="M259.4 1.6 L261.29999999999995 4 L257.5 4 Z" fill="#585858"/>
<rect x="257.09999999999997" y="12.8" width="12.6" height="1.2" fill="#585858"/>
<path d="M270.9 13.4 L268.59999999999997 11.5 L268.59999999999997 15.3 Z" fill="#585858"/>
<path d="M265.5 3.2 V11.8 M265.5 4.6 H268.2 M263 10.6 H265.5" fill="none" stroke="#0a920a" stroke-width="1.2"/>
<rect x="279" y="0" width="1" height="18" fill="#a0a0a0"/>
<rect x="280" y="0" width="1" height="18" fill="#fcfcfc"/>
<rect x="280.6" y="0" width="23.399999999999977" height="18" fill="url(#chk)"/>
<rect x="286.79999999999995" y="2.6" width="1.2" height="13.2" fill="#585858"/>
<path d="M287.4 1.6 L289.29999999999995 4 L285.5 4 Z" fill="#585858"/>
<rect x="285.09999999999997" y="12.8" width="12.6" height="1.2" fill="#585858"/>
<path d="M298.9 13.4 L296.59999999999997 11.5 L296.59999999999997 15.3 Z" fill="#585858"/>
<rect x="292.9" y="0" width="1.2" height="11.8" fill="#0a920a"/>
<rect x="291.3" y="2.4" width="4.4" height="7.2" fill="url(#gCandle)" stroke="#0a920a" stroke-width="0.9"/>
<rect x="314.9" y="2.6" width="1.2" height="13.2" fill="#585858"/>
<path d="M315.5 1.6 L317.4 4 L313.6 4 Z" fill="#585858"/>
<rect x="313.2" y="12.8" width="12.6" height="1.2" fill="#585858"/>
<path d="M327.0 13.4 L324.7 11.5 L324.7 15.3 Z" fill="#585858"/>
<path d="M314.2 10.6 C316.4 10 317.6 5.2 320.2 5.2 C322.4 5.2 323.4 8.6 326 9.1" fill="none" stroke="#2aa02a" stroke-width="1.1"/>
<rect x="336" y="0" width="1" height="18" fill="#a0a0a0"/>
<rect x="337" y="0" width="1" height="18" fill="#fcfcfc"/>
<path d="M355.0 9.9 L360.0 14.6" stroke="#9c7006" stroke-width="3.4" stroke-linecap="butt" fill="none"/>
<path d="M355.0 9.9 L359.8 14.4" stroke="#ecc828" stroke-width="2" stroke-linecap="butt" fill="none"/>
<path d="M355.0 9.9 L359.8 14.4" stroke="#fff0a0" stroke-width="0.7" stroke-dasharray="0.7 0.9" fill="none"/>
<circle cx="351.1" cy="5.7" r="5.6" fill="url(#gLens)" stroke="#2a6cc4" stroke-width="1.1"/>
<rect x="347.90000000000003" y="4.8" width="6.4" height="1.8" fill="#3a86b2"/>
<rect x="350.20000000000005" y="2.5" width="1.8" height="6.4" fill="#3a86b2"/>
<path d="M383.0 9.9 L388.0 14.6" stroke="#9c7006" stroke-width="3.4" stroke-linecap="butt" fill="none"/>
<path d="M383.0 9.9 L387.8 14.4" stroke="#ecc828" stroke-width="2" stroke-linecap="butt" fill="none"/>
<path d="M383.0 9.9 L387.8 14.4" stroke="#fff0a0" stroke-width="0.7" stroke-dasharray="0.7 0.9" fill="none"/>
<circle cx="379.1" cy="5.7" r="5.6" fill="url(#gLens)" stroke="#2a6cc4" stroke-width="1.1"/>
<rect x="375.90000000000003" y="4.8" width="6.4" height="1.8" fill="#3a86b2"/>
<rect x="401" y="0" width="7.9" height="7.8" fill="url(#gGreenSq)"/>
<path d="M402.2 3.2 h6 v3.8 h-1 v-1 h-4 v1 h-1 Z" fill="#fff"/>
<rect x="402.3" y="1.2" width="0.9" height="0.9" fill="#fff" opacity="0.85"/>
<rect x="403.3" y="4.2" width="3.8" height="0.9" fill="#9ad67c"/>
<rect x="409" y="0" width="7.9" height="7.8" fill="url(#gBlueSq)"/>
<path d="M410.2 3.2 h6 v3.8 h-1 v-1 h-4 v1 h-1 Z" fill="#fff"/>
<rect x="410.3" y="1.2" width="0.9" height="0.9" fill="#fff" opacity="0.85"/>
<rect x="411.3" y="4.2" width="3.8" height="0.9" fill="#9ab4f0"/>
<rect x="401" y="8" width="7.9" height="7.8" fill="url(#gBlueSq)"/>
<path d="M402.2 11.2 h6 v3.8 h-1 v-1 h-4 v1 h-1 Z" fill="#fff"/>
<rect x="402.3" y="9.2" width="0.9" height="0.9" fill="#fff" opacity="0.85"/>
<rect x="403.3" y="12.2" width="3.8" height="0.9" fill="#9ab4f0"/>
<rect x="409" y="8" width="7.9" height="7.8" fill="url(#gGreenSq)"/>
<path d="M410.2 11.2 h6 v3.8 h-1 v-1 h-4 v1 h-1 Z" fill="#fff"/>
<rect x="410.3" y="9.2" width="0.9" height="0.9" fill="#fff" opacity="0.85"/>
<rect x="411.3" y="12.2" width="3.8" height="0.9" fill="#9ad67c"/>
<rect x="426" y="0" width="1" height="18" fill="#a0a0a0"/>
<rect x="427" y="0" width="1" height="18" fill="#fcfcfc"/>
<rect x="431" y="0" width="1" height="18" fill="#a0a0a0"/>
<rect x="432" y="0" width="1" height="18" fill="#fcfcfc"/>
<rect x="432.6" y="0" width="24.0" height="18" fill="url(#chk)"/>
<rect x="438.79999999999995" y="2.6" width="1.2" height="13.2" fill="#585858"/>
<path d="M439.4 1.6 L441.29999999999995 4 L437.5 4 Z" fill="#585858"/>
<rect x="437.09999999999997" y="12.8" width="12.6" height="1.2" fill="#585858"/>
<path d="M450.9 13.4 L448.59999999999997 11.5 L448.59999999999997 15.3 Z" fill="#585858"/>
<path d="M444.2 4 L448.2 7.4 L444.2 10.8 Z" fill="#48d848" stroke="#109410" stroke-width="0.9" stroke-linejoin="round"/>
<rect x="459" y="0" width="1" height="18" fill="#a0a0a0"/>
<rect x="460" y="0" width="1" height="18" fill="#fcfcfc"/>
<rect x="460.6" y="0" width="24.0" height="18" fill="url(#chk)"/>
<rect x="466.79999999999995" y="2.6" width="1.2" height="13.2" fill="#585858"/>
<path d="M467.4 1.6 L469.29999999999995 4 L465.5 4 Z" fill="#585858"/>
<rect x="465.09999999999997" y="12.8" width="12.6" height="1.2" fill="#585858"/>
<path d="M478.9 13.4 L476.59999999999997 11.5 L476.59999999999997 15.3 Z" fill="#585858"/>
<rect x="472.9" y="2" width="1.2" height="10" fill="#1a6fa8"/>
<path d="M474.2 7.4 L477.4 4.9 L476.8 6.8 L479.2 6.8 L479.2 8 L476.8 8 L477.4 9.9 Z" fill="#d84c08" stroke="#c04000" stroke-width="0.3"/>
<rect x="488" y="0" width="1" height="18" fill="#a0a0a0"/>
<rect x="489" y="0" width="1" height="18" fill="#fcfcfc"/>
<path d="M498.40000000000003 0 L506.40000000000003 0 L509.40000000000003 3 L509.40000000000003 13.3 L498.40000000000003 13.3 Z" fill="#fff" stroke="#7c7c7c" stroke-width="1"/>
<path d="M506.2 0.2 L506.2 3.2 L509.2 3.2" fill="none" stroke="#8a8a8a" stroke-width="0.9"/>
<text x="500.2" y="9.2" font-size="8.6" font-style="italic" fill="#5c4c24" stroke="#5c4c24" stroke-width="0.3" style="font-family:'Liberation Serif',serif">f</text>
<path d="M506.1 6.3 h3.6 v3.9 h4 v3.6 h-4 v4 h-3.6 v-4 h-4 v-3.6 h4 Z" fill="url(#gPlus)" stroke="#0a9414" stroke-width="0.8"/>
<path d="M519.7 7 L525.3000000000001 7 L522.5 10.2 Z" fill="#000"/>
<circle cx="543.9" cy="8" r="6.7" fill="#fdfdff" stroke="#1260d0" stroke-width="2.6"/>
<path d="M543.9 1.2 A6.9 6.9 0 0 1 550.7 7" fill="none" stroke="#4a9cf4" stroke-width="1.4"/>
<rect x="541.6" y="-0.6" width="4.6" height="1.4" fill="#1a5cc0"/>
<path d="M543.9 8.4 L543.3 4.4 M543.6 8 L546.6 7.8" fill="none" stroke="#303030" stroke-width="1"/>
<rect x="543" y="11.4" width="2" height="0.7" fill="#6ab0f8"/>
<rect x="543.6" y="3.1" width="0.6" height="0.6" fill="#a0a0a0"/>
<rect x="548.2" y="7.7" width="0.6" height="0.6" fill="#a0a0a0"/>
<rect x="539.0" y="7.7" width="0.6" height="0.6" fill="#a0a0a0"/>
<rect x="546.9" y="4.4" width="0.6" height="0.6" fill="#a0a0a0"/>
<rect x="540.3" y="4.4" width="0.6" height="0.6" fill="#a0a0a0"/>
<rect x="546.9" y="11.0" width="0.6" height="0.6" fill="#a0a0a0"/>
<rect x="540.3" y="11.0" width="0.6" height="0.6" fill="#a0a0a0"/>
<path d="M558.8 7 L564.4 7 L561.5999999999999 10.2 Z" fill="#000"/>
<rect x="575.6" y="1.4" width="14.8" height="13.4" fill="#fff" stroke="#3674cc" stroke-width="1"/>
<rect x="575.2" y="1" width="15.6" height="2.6" fill="#4a86dc"/>
<rect x="576" y="1.4" width="6" height="0.8" fill="#a8ccf8"/>
<rect x="575.6" y="9" width="14.8" height="0.8" fill="#5a90dc"/>
<path d="M577.4 7.6 L579 7.6 L580.6 6.4 L582 5.6 L583.6 6.6 L585.6 6.6 L587 5.6 L588.6 5.6" fill="none" stroke="#a42408" stroke-width="1.1"/>
<path d="M577.6 13 L579.4 12.2 L581 12.8 L583 12.6 L585 10.6 L586.4 10.8 L588.6 12.8" fill="none" stroke="#14962a" stroke-width="1.1"/>
<path d="M597.7 7 L603.3000000000001 7 L600.5 10.2 Z" fill="#000"/>
<rect x="609" y="0" width="1" height="20" fill="#a0a0a0"/>
<rect x="610" y="0" width="1" height="20" fill="#fcfcfc"/>
<rect x="613" y="0" width="3" height="1" fill="#b0b0b0"/>
<rect x="613" y="2" width="3" height="1" fill="#b0b0b0"/>
<rect x="613" y="4" width="3" height="1" fill="#b0b0b0"/>
<rect x="613" y="6" width="3" height="1" fill="#b0b0b0"/>
<rect x="613" y="8" width="3" height="1" fill="#b0b0b0"/>
<rect x="613" y="10" width="3" height="1" fill="#b0b0b0"/>
<rect x="613" y="12" width="3" height="1" fill="#b0b0b0"/>
<rect x="613" y="14" width="3" height="1" fill="#b0b0b0"/>
<rect x="613" y="16" width="3" height="1" fill="#b0b0b0"/>
<rect x="620" y="0" width="24.600000000000023" height="18" fill="url(#chk)"/>
<rect x="619" y="0" width="1" height="18" fill="#a0a0a0"/>
<path d="M627.2 1.2 L627.2 12.2 L629.8 9.9 L632.2 15.2 L634 14.4 L631.7 9.3 L635.3 9.1 Z" fill="#4a4a4a"/>
<rect x="659" y="1.2" width="0.95" height="14.6" fill="#5a5a5a"/>
<rect x="652.2" y="7.85" width="14.6" height="0.95" fill="#5a5a5a"/>
<rect x="658.4" y="7.3" width="2.1" height="2.1" fill="#f0f0f0"/>
<rect x="659" y="7.85" width="0.95" height="0.95" fill="#8a8a8a"/>
<rect x="676" y="0" width="1" height="18" fill="#a0a0a0"/>
<rect x="692.9" y="1.8" width="1.05" height="13" fill="#585858"/>
<rect x="716" y="7.85" width="12" height="1" fill="#585858"/>
<path d="M744 15 L755.8 2.6" stroke="#585858" stroke-width="1.05" fill="none"/>
<g stroke="#4a4a4a" stroke-width="1" fill="none">
<path d="M769.7 9.7 L778 2 M774.4 15 L784.2 6 M771 13.4 L782.4 2.9"/>
<path d="M772.6 6.4 L771.8 13.2 M775.2 4.6 L774.6 12.4 M777.8 3.2 L777.2 11.2 M780.6 0 L779.8 9.4" stroke-width="0.9"/>
</g>
<text x="781" y="16.8" font-size="6.4" font-weight="bold" fill="#3c3c3c">E</text>
<line x1="799.2" y1="1.4" x2="812" y2="1.4" stroke="#4a4a4a" stroke-width="0.9" stroke-dasharray="0.9 1.1"/>
<line x1="799.2" y1="4.5" x2="812" y2="4.5" stroke="#4a4a4a" stroke-width="0.9" stroke-dasharray="0.9 1.1"/>
<line x1="799.2" y1="8.5" x2="812" y2="8.5" stroke="#4a4a4a" stroke-width="0.9" stroke-dasharray="0.9 1.1"/>
<line x1="799.2" y1="12.5" x2="808" y2="12.5" stroke="#4a4a4a" stroke-width="0.9" stroke-dasharray="0.9 1.1"/>
<text x="808.6" y="16.8" font-size="6.4" font-weight="bold" fill="#3c3c3c">F</text>
<text transform="matrix(1 0.002 0 1 829.4 13)" font-size="12.8" fill="#484848" stroke="#484848" stroke-width="0.45">A</text>
<rect x="856.3" y="2.7" width="11.4" height="11.8" fill="none" stroke="#4a4a4a" stroke-width="0.9" stroke-dasharray="0.9 1.1"/>
<rect x="855" y="1.4" width="1.8" height="1.2" fill="#4a4a4a"/>
<text transform="matrix(1.06 0.002 0 1 857.8 12.8)" font-size="11" fill="#4c4c4c" stroke="#4c4c4c" stroke-width="0.4">T</text>
<path d="M886.6 1.8 L890.2 5 L886.6 6.4 L883 5 Z" fill="#4a4a4a"/>
<path d="M885 10 L887.6 11.8 L891.8 6.4" fill="none" stroke="#4a4a4a" stroke-width="1.5"/>
<path d="M893.4 15.2 L897.2 11.6 L893.4 10.2 L889.6 11.6 Z" fill="#4a4a4a"/>
<path d="M903.8 7 L909.4 7 L906.5999999999999 10.2 Z" fill="#000"/>
<rect x="915" y="0" width="1" height="20" fill="#a0a0a0"/>
<rect x="916" y="0" width="1" height="20" fill="#fcfcfc"/>
<rect x="919" y="0" width="3" height="1" fill="#b0b0b0"/>
<rect x="919" y="2" width="3" height="1" fill="#b0b0b0"/>
<rect x="919" y="4" width="3" height="1" fill="#b0b0b0"/>
<rect x="919" y="6" width="3" height="1" fill="#b0b0b0"/>
<rect x="919" y="8" width="3" height="1" fill="#b0b0b0"/>
<rect x="919" y="10" width="3" height="1" fill="#b0b0b0"/>
<rect x="919" y="12" width="3" height="1" fill="#b0b0b0"/>
<rect x="919" y="14" width="3" height="1" fill="#b0b0b0"/>
<rect x="919" y="16" width="3" height="1" fill="#b0b0b0"/>
<rect x="1066" y="0" width="24" height="18" fill="url(#chk)"/>
<rect x="1065" y="0" width="1" height="18" fill="#a0a0a0"/>
<text transform="matrix(0.98 0.002 0 1 930.5 11.9)" font-size="9.4" fill="#444" stroke="#444" stroke-width="0.2">M1</text>
<text transform="matrix(0.98 0.002 0 1 958.4 11.9)" font-size="9.4" fill="#444" stroke="#444" stroke-width="0.2">M5</text>
<text transform="matrix(0.98 0.002 0 1 984 11.9)" font-size="9.4" fill="#444" stroke="#444" stroke-width="0.2">M15</text>
<text transform="matrix(0.98 0.002 0 1 1012.2 11.9)" font-size="9.4" fill="#444" stroke="#444" stroke-width="0.2">M30</text>
<text transform="matrix(0.98 0.002 0 1 1043.4 11.9)" font-size="9.4" fill="#444" stroke="#444" stroke-width="0.2">H1</text>
<text transform="matrix(0.98 0.002 0 1 1070 11.9)" font-size="9.4" fill="#444" stroke="#444" stroke-width="0.2">H4</text>
<text transform="matrix(0.98 0.002 0 1 1099 11.9)" font-size="9.4" fill="#444" stroke="#444" stroke-width="0.2">D1</text>
<text transform="matrix(0.98 0.002 0 1 1127 11.9)" font-size="9.4" fill="#444" stroke="#444" stroke-width="0.2">W1</text>
<text transform="matrix(0.98 0.002 0 1 1153 11.9)" font-size="9.4" fill="#444" stroke="#444" stroke-width="0.2">MN</text>
<rect x="1176" y="0" width="1" height="18" fill="#a0a0a0"/>
<path d="M1643.6 8.8 L1639 13" stroke="#2454cc" stroke-width="2.6" stroke-linecap="round" fill="none"/>
<path d="M1643.6 8.8 L1639 13" stroke="#7a9cf0" stroke-width="0.7" stroke-dasharray="0.8 0.8" fill="none"/>
<circle cx="1646.5" cy="5.7" r="3.9" fill="#f6f6ff" stroke="#2a62dc" stroke-width="1.3"/>
<path d="M1663.2 11 C1663.2 7.6 1666 6 1669 6 C1672.4 6 1674.6 8 1674.6 10.8 C1674.6 13.4 1672.4 14.6 1669.4 14.6 L1667.6 14.6 L1666.2 16.8 L1665.9 14.2 C1664.2 13.6 1663.2 12.6 1663.2 11 Z" fill="#e6e6ee" stroke="#a4a4a4" stroke-width="0.9"/>
<circle cx="1677.4" cy="5.9" r="8.1" fill="url(#gRed)"/>
<text x="1677.2" y="10.3" font-size="12.4" fill="#fff" stroke="#fff" stroke-width="0.45" text-anchor="middle" style="font-family:'DejaVu Sans','Liberation Sans',sans-serif">1</text>
</g>
</svg>
</body>
</html>
